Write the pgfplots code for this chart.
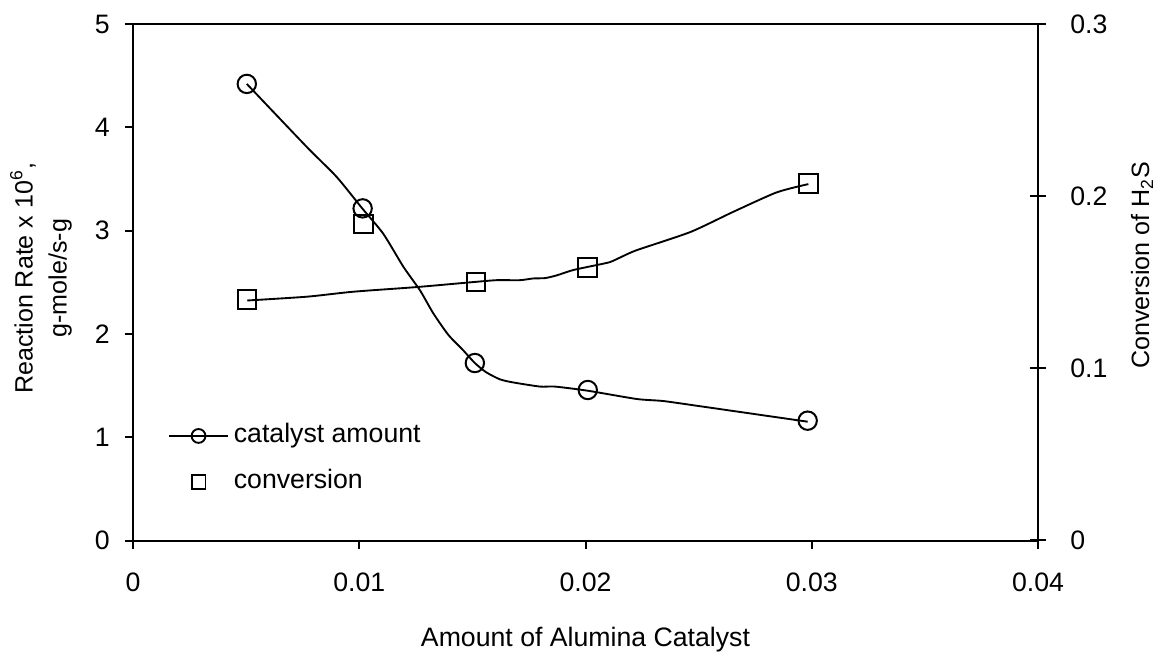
\documentclass[border=0pt]{standalone}
\usepackage{fontspec}
\setmainfont{Liberation Sans}
\usepackage{pgfplots}
\pgfplotsset{compat=1.18}
\pgfplotsset{mylegend/.style={legend image code/.code={\draw[mark repeat=2,mark phase=2,##1] plot coordinates {(0cm,0cm) (0.383cm,0cm) (0.766cm,0cm)};}}}
\newcommand\fs{\fontsize{10}{12}\selectfont}
\newcommand\fy{\fontsize{9.4}{11.3}\selectfont}
\begin{document}
\fs
\begin{tikzpicture}
\begin{axis}[
  name=ax,
  scale only axis, width=339.375pt, height=193.69pt,
  xmin=0, xmax=0.04, ymin=0, ymax=5,
  xtick={0,0.01,0.02,0.03,0.04}, xticklabels={0,0.01,0.02,0.03,0.04},
  scaled x ticks=false,
  ytick={0,1,2,3,4,5},
  xtick pos=bottom, ytick pos=left,
  tick align=outside, major tick length=3pt,
  axis line style={line width=0.75pt}, every tick/.style={black, line width=0.75pt},
  /pgf/number format/assume math mode=true,
  tick label style={font=\fs},
  xticklabel shift=5.6pt,
  yticklabel style={xshift=-2.2pt},
  xlabel={Amount of Alumina Catalyst},
  every axis x label/.style={at={(rel axis cs:0.5,0)}, yshift=-37pt, anchor=center, font=\fs},
  ylabel={Reaction Rate x 10\textsuperscript{6},\\[1.5pt] g-mole/s-g},
  every axis y label/.style={at={(rel axis cs:0,0.5)}, xshift=-34.5pt, yshift=1.5pt, rotate=90, anchor=center, align=center, font=\fy},
]
% catalyst amount: fitted curve
\addplot[black, line width=0.7pt, smooth, tension=0.4] coordinates {
(0.00503,4.42) (0.00768,3.81) (0.0090,3.52) (0.01015,3.21) (0.01106,2.97)
(0.01195,2.65) (0.01269,2.42) (0.01327,2.20) (0.01394,1.99) (0.0146,1.84)
(0.0151,1.72) (0.0156,1.63) (0.01622,1.56) (0.01681,1.53) (0.01799,1.49)
(0.01865,1.49) (0.0201,1.45) (0.02226,1.37) (0.02344,1.35) (0.02506,1.30)
(0.02982,1.15)};
% catalyst amount: data
\addplot[black, only marks, mark=o, mark size=3.45pt, mark options={line width=0.75pt}] coordinates {
(0.00503,4.42) (0.01015,3.215) (0.01511,1.718) (0.0201,1.457) (0.02982,1.16)};
\end{axis}
\begin{axis}[
  scale only axis, width=339.375pt, height=193.69pt,
  xmin=0, xmax=0.04, ymin=0, ymax=0.3,
  axis x line=none, axis y line*=right,
  ytick={0,0.1,0.2,0.3}, yticklabels={0,0.1,0.2,0.3},
  scaled y ticks=false,
  tick align=center, major tick length=6pt,
  axis line style={line width=0.75pt}, every tick/.style={black, line width=0.75pt},
  /pgf/number format/assume math mode=true,
  tick label style={font=\fs},
  yticklabel style={xshift=5.6pt},
  ylabel={Conversion of H\textsubscript{2}S},
  every axis y label/.style={at={(rel axis cs:1,0.5)}, xshift=39pt, yshift=6.4pt, rotate=90, anchor=center, font=\fy},
  legend style={draw=none, fill=none, font=\fs, at={(axis description cs:0.0387,0.237)}, anchor=north west,
    inner sep=0pt, row sep=4.2pt, nodes={text height=7pt, text depth=2pt}},
  legend cell align=left,
]
\addplot[black, line width=0.7pt, smooth, tension=0.4, forget plot] coordinates {
(0.00505,0.1394) (0.00768,0.1416) (0.00974,0.1445) (0.01254,0.1472) (0.01504,0.1501)
(0.01607,0.1512) (0.0171,0.1512) (0.01769,0.1522) (0.01821,0.1524) (0.01873,0.1540)
(0.01946,0.1571) (0.0205,0.1600) (0.02108,0.1617) (0.02152,0.1643) (0.02226,0.1686)
(0.02464,0.1792) (0.02653,0.1909) (0.02845,0.2022) (0.02985,0.2070)};
\addplot[black, only marks, mark=square, mark size=3.45pt, mark options={line width=0.75pt}, forget plot] coordinates {
(0.00505,0.140) (0.01018,0.1837) (0.01515,0.1503) (0.02008,0.1585) (0.02985,0.2074)};
\addlegendimage{black, line width=0.7pt, mark=o, mark size=2.6pt, mylegend}
\addlegendentry{catalyst amount}
\addlegendimage{black, line width=0.7pt, only marks, mark=square, mark size=2.6pt, mylegend}
\addlegendentry{conversion}
\end{axis}
\pgfresetboundingbox
\path[use as bounding box] ([xshift=-49.875pt,yshift=-42.94pt]ax.south west) rectangle ([xshift=44.25pt,yshift=9pt]ax.north east);
\end{tikzpicture}
\end{document}
